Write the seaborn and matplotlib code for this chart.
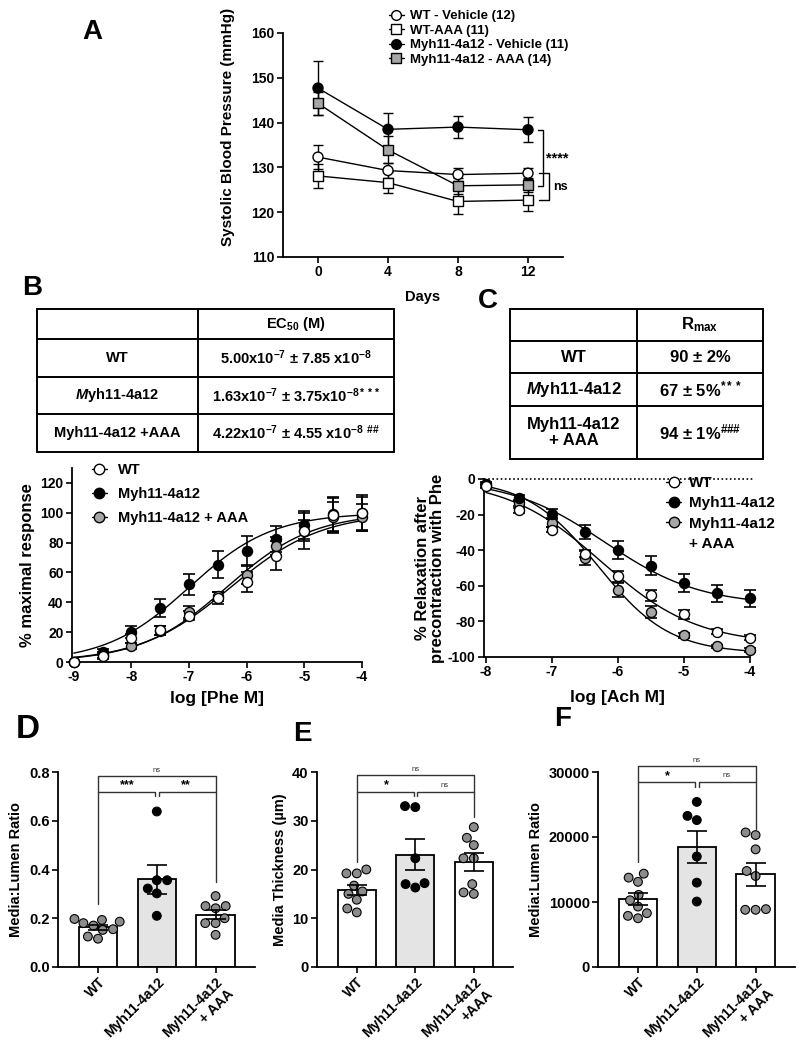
import numpy as np
import pandas as pd
import matplotlib
matplotlib.use("Agg")
import matplotlib.pyplot as plt
import seaborn as sns
from matplotlib.lines import Line2D

sns.set_theme(style="ticks")
plt.rcParams["font.family"] = ["Liberation Sans", "DejaVu Sans"]
plt.rcParams["font.weight"] = "bold"
plt.rcParams["axes.labelweight"] = "bold"
plt.rcParams["text.color"] = "black"
plt.rcParams["axes.labelcolor"] = "black"
plt.rcParams["xtick.color"] = "black"
plt.rcParams["ytick.color"] = "black"
plt.rcParams["axes.edgecolor"] = "black"
plt.rcParams["mathtext.fontset"] = "custom"
plt.rcParams["mathtext.rm"] = "Liberation Sans:bold"
plt.rcParams["mathtext.bf"] = "Liberation Sans:bold"
plt.rcParams["mathtext.it"] = "Liberation Sans:italic:bold"
plt.rcParams["mathtext.default"] = "rm"
plt.rcParams["axes.unicode_minus"] = False

# ---------------- data ----------------
# Panel A : systolic blood pressure
days = [0, 4, 8, 12]
a_groups = ["WT - Vehicle (12)", "WT-AAA (11)", "Myh11-4a12 - Vehicle (11)", "Myh11-4a12 - AAA (14)"]
bp_wt_veh = [132.3, 129.3, 128.4, 128.7]
bp_wt_veh_sem = [2.7, 1.6, 1.5, 1.2]
bp_wt_aaa = [128.1, 126.6, 122.4, 122.7]
bp_wt_aaa_sem = [2.6, 2.3, 2.8, 2.5]
bp_myh_veh = [147.7, 138.5, 139.0, 138.4]
bp_myh_veh_sem = [6.0, 3.7, 2.4, 2.8]
bp_myh_aaa = [144.3, 133.9, 125.9, 126.1]
bp_myh_aaa_sem = [2.5, 3.0, 1.8, 1.6]

# Panel B : phenylephrine concentration-response
curve_groups = ["WT", "Myh11-4a12", "Myh11-4a12 + AAA"]
log_phe = [-9, -8.5, -8, -7.5, -7, -6.5, -6, -5.5, -5, -4.5, -4]
phe_wt = [0, 4, 16, 21.3, 30.9, 42.9, 53.6, 71.3, 87.6, 98.7, 99.6]
phe_wt_sem = [0, 2, 3, 3, 3, 4, 7, 9.5, 12, 12, 12]
phe_myh = [0, 7, 20.2, 36.2, 52, 65.3, 74.7, 82.4, 91.8, 99, 99.6]
phe_myh_sem = [0, 2, 4, 6, 7, 9, 10, 9, 9.5, 11, 11]
phe_aaa = [0, 5, 11, 21, 33.6, 44, 58.4, 78, 88, 97, 97]
phe_aaa_sem = [0, 2, 2, 3, 4, 3, 6, 6, 7, 10, 9]
# fitted 4PL parameters (bottom, top, logEC50, hill)
phe_fit = {"WT": (0, 100, -6.28, 0.55),
           "Myh11-4a12": (0, 100, -7.0, 0.6),
           "Myh11-4a12 + AAA": (0, 100, -6.35, 0.58)}

# Panel C : acetylcholine relaxation
log_ach = [-8, -7.5, -7, -6.5, -6, -5.5, -5, -4.5, -4]
ach_wt = [-4.1, -17.6, -28.4, -41.9, -54.6, -65.4, -76.1, -85.8, -89.2]
ach_wt_sem = [1, 1.5, 1.5, 2, 3, 3, 2.5, 1.5, 1.5]
ach_myh = [-2.6, -10.7, -19.6, -29.7, -40, -48.6, -58.3, -64.3, -67.1]
ach_myh_sem = [1, 1.5, 2.5, 4, 5, 5.5, 5, 5, 5]
ach_aaa = [-3.5, -13.5, -24.7, -44.3, -62.4, -74.6, -87.9, -94, -96]
ach_aaa_sem = [1, 1.5, 2, 4, 4, 3.5, 1.5, 1, 1]
ach_fit = {"WT": (0, -93, -6.25, 0.6),
           "Myh11-4a12": (0, -71, -6.2, 0.6),
           "Myh11-4a12 + AAA": (0, -98, -6.3, 0.8)}

# Tables
tabB_rows = ["WT", "$\\mathit{M}$yh11-4a12", "Myh11-4a12 +AAA"]
tabB_vals = ["5.00x10$^{-7}$ \u00b1 7.85 x10$^{-8}$",
             "1.63x10$^{-7}$ \u00b1 3.75x10$^{-8***}$",
             "4.22x10$^{-7}$ \u00b1 4.55 x10$^{-8}$ $^{\\#\\#}$"]
tabC_rows = ["WT", "$\\mathit{M}$yh11-4a12", "Myh11-4a12\n+ AAA"]
tabC_vals = ["90 \u00b1 2%", "67 \u00b1 5%$^{***}$", "94 \u00b1 1%$^{\\#\\#\\#}$"]

# Panels D-F : morphometry
bar_groups = ["WT", "Myh11-4a12", "Myh11-4a12 + AAA"]
d_means = [0.163, 0.360, 0.215]
d_sems = [0.010, 0.060, 0.019]
d_wt = [0.18, 0.17, 0.186, 0.193, 0.197, 0.152, 0.155, 0.116, 0.125]
d_myh = [0.638, 0.356, 0.356, 0.322, 0.302, 0.21]
d_aaa = [0.291, 0.25, 0.25, 0.241, 0.20, 0.18, 0.18, 0.132]

e_means = [15.8, 23.0, 21.5]
e_sems = [1.0, 3.2, 1.9]
e_wt = [19.2, 20.0, 19.2, 15.5, 16.7, 15.0, 13.8, 11.2, 12.0]
e_myh = [32.8, 33.0, 22.3, 17.2, 17.0, 16.3]
e_aaa = [28.7, 26.5, 25.0, 22.3, 22.3, 17.0, 15.0, 15.3]

f_means = [10500, 18500, 14250]
f_sems = [900, 2500, 1800]
f_wt = [13750, 14360, 13100, 10270, 11100, 9300, 7500, 8280, 7870]
f_myh = [25400, 23250, 22600, 17000, 12980, 10070]
f_aaa = [20300, 20700, 18100, 14770, 14000, 8800, 8900, 8800]

# ---------------- figure ----------------
W, H = 803, 1050
fig = plt.figure(figsize=(W / 100, H / 100), dpi=100)


def px_axes(l, t, r, b):
    return fig.add_axes([l / W, 1 - b / H, (r - l) / W, (b - t) / H])


bg = fig.add_axes([0, 0, 1, 1])
bg.set_xlim(0, W)
bg.set_ylim(H, 0)
bg.axis("off")


def style_axes(ax, fs=9):
    sns.despine(ax=ax)
    for s in ["left", "bottom"]:
        ax.spines[s].set_linewidth(1.3)
        ax.spines[s].set_color("black")
    ax.tick_params(axis="both", direction="out", length=4, width=1.2,
                   colors="black", labelsize=fs, pad=2)
    for lab in ax.get_xticklabels() + ax.get_yticklabels():
        lab.set_fontweight("bold")
        lab.set_color("black")
    ax.set_facecolor("none")


def logistic(x, p):
    bottom, top, logec, hill = p
    x = np.asarray(x)
    return bottom + (top - bottom) / (1 + 10 ** ((logec - x) * hill))


# ---------- Panel A ----------
axA = px_axes(283, 33, 563, 257)
a_vals = [bp_wt_veh, bp_wt_aaa, bp_myh_veh, bp_myh_aaa]
a_sems = [bp_wt_veh_sem, bp_wt_aaa_sem, bp_myh_veh_sem, bp_myh_aaa_sem]
a_face = {a_groups[0]: "white", a_groups[1]: "white", a_groups[2]: "black", a_groups[3]: "#a6a6a6"}
a_mark = {a_groups[0]: "o", a_groups[1]: "s", a_groups[2]: "o", a_groups[3]: "s"}
dfA = pd.DataFrame([(g, d, v) for g, vals in zip(a_groups, a_vals) for d, v in zip(days, vals)],
                   columns=["group", "day", "bp"])
for g, vals, sems in zip(a_groups, a_vals, a_sems):
    axA.errorbar(days, vals, yerr=sems, fmt="none", ecolor="black", elinewidth=1,
                 capsize=3.5, capthick=1, zorder=1, clip_on=False)
sns.lineplot(data=dfA, x="day", y="bp", hue="group", palette={g: "black" for g in a_groups},
             linewidth=1, legend=False, ax=axA, zorder=2)
sns.scatterplot(data=dfA, x="day", y="bp", hue="group", style="group", palette=a_face,
                markers=a_mark, s=52, edgecolor="black", linewidth=1, legend=False,
                ax=axA, zorder=3, clip_on=False)
axA.set_xlim(-2, 14)
axA.set_ylim(110, 160)
axA.set_xticks(days)
axA.set_yticks(range(110, 161, 10))
axA.set_xlabel("Days", fontsize=10.5, labelpad=8)
axA.set_ylabel("Systolic Blood Pressure (mmHg)", fontsize=11)
axA.yaxis.set_label_coords(-0.17, 0.58)
style_axes(axA, 10)
# significance brackets
axA.plot([12.55, 12.86, 12.86, 12.55], [138.3, 138.3, 125.9, 125.9], color="black", lw=1, clip_on=False)
axA.text(13.05, 131.9, "****", fontsize=10.5, fontweight="bold", ha="left", va="center")
axA.plot([12.62, 13.2, 13.2, 12.62], [128.7, 128.7, 122.7, 122.7], color="black", lw=1, clip_on=False)
axA.text(13.45, 125.7, "ns", fontsize=9, fontweight="bold", ha="left", va="center")
a_handles = [Line2D([], [], color="black", lw=1, marker=a_mark[g], markerfacecolor=a_face[g],
                    markeredgecolor="black", markersize=7) for g in a_groups]
fig.legend(a_handles, a_groups, loc="upper left", bbox_to_anchor=(389 / W, 1 - 10 / H),
           frameon=False, handlelength=1.1, handletextpad=0.5,
           labelspacing=0.18, borderpad=0, borderaxespad=0, prop={"weight": "bold", "size": 9.5})

# ---------- Panel B ----------
c_face = {"WT": "white", "Myh11-4a12": "black", "Myh11-4a12 + AAA": "#a6a6a6"}
axB = px_axes(72, 468, 362, 662)
b_vals = {"WT": (phe_wt, phe_wt_sem), "Myh11-4a12": (phe_myh, phe_myh_sem),
          "Myh11-4a12 + AAA": (phe_aaa, phe_aaa_sem)}
xfitB = np.linspace(-9, -4, 200)
dfBfit = pd.DataFrame([(g, x, y) for g in curve_groups
                       for x, y in zip(xfitB, logistic(xfitB, phe_fit[g]))],
                      columns=["group", "x", "y"])
sns.lineplot(data=dfBfit, x="x", y="y", hue="group", palette={g: "black" for g in curve_groups},
             linewidth=1, legend=False, ax=axB, zorder=2)
dfB = pd.DataFrame([(g, x, v) for g in curve_groups for x, v in zip(log_phe, b_vals[g][0])],
                   columns=["group", "x", "y"])
for g in ["Myh11-4a12", "Myh11-4a12 + AAA", "WT"]:
    axB.errorbar(log_phe, b_vals[g][0], yerr=b_vals[g][1], fmt="none", ecolor="black",
                 elinewidth=1.2, capsize=4, capthick=1.2, zorder=1, clip_on=False)
for g in ["Myh11-4a12", "Myh11-4a12 + AAA", "WT"]:
    sns.scatterplot(data=dfB[dfB.group == g], x="x", y="y", color=c_face[g], s=52,
                    edgecolor="black", linewidth=1, legend=False, ax=axB, zorder=3, clip_on=False)
axB.set_xlim(-9.03, -4)
axB.set_ylim(0, 130)
axB.set_xticks(range(-9, -3))
axB.set_yticks(range(0, 121, 20))
axB.set_xlabel("log [Phe M]", fontsize=12.5, labelpad=5)
axB.set_ylabel("% maximal response", fontsize=12, labelpad=4)
style_axes(axB, 10)
b_handles = [Line2D([], [], color="black", lw=1, marker="o", markerfacecolor=c_face[g],
                    markeredgecolor="black", markersize=7.5) for g in curve_groups]
fig.legend(b_handles, curve_groups, loc="upper left", bbox_to_anchor=(92 / W, 1 - 463 / H),
           frameon=False, handlelength=1.0, handletextpad=0.8, labelspacing=0.68,
           borderpad=0, borderaxespad=0, prop={"weight": "bold", "size": 10.5})

# ---------- Panel C ----------
axC = px_axes(484, 479, 750, 657)
c_vals = {"WT": (ach_wt, ach_wt_sem), "Myh11-4a12": (ach_myh, ach_myh_sem),
          "Myh11-4a12 + AAA": (ach_aaa, ach_aaa_sem)}
axC.axhline(0, color="black", lw=1.2, ls=(0, (1, 1.5)), xmax=1.01, clip_on=False, zorder=0)
xfitC = np.linspace(-8, -4, 200)
dfCfit = pd.DataFrame([(g, x, y) for g in curve_groups
                       for x, y in zip(xfitC, logistic(xfitC, ach_fit[g]))],
                      columns=["group", "x", "y"])
sns.lineplot(data=dfCfit, x="x", y="y", hue="group", palette={g: "black" for g in curve_groups},
             linewidth=1, legend=False, ax=axC, zorder=2)
dfC = pd.DataFrame([(g, x, v) for g in curve_groups for x, v in zip(log_ach, c_vals[g][0])],
                   columns=["group", "x", "y"])
for g in curve_groups:
    axC.errorbar(log_ach, c_vals[g][0], yerr=c_vals[g][1], fmt="none", ecolor="black",
                 elinewidth=1.2, capsize=4, capthick=1.2, zorder=1, clip_on=False)
for g in ["Myh11-4a12 + AAA", "Myh11-4a12", "WT"]:
    sns.scatterplot(data=dfC[dfC.group == g], x="x", y="y", color=c_face[g], s=52,
                    edgecolor="black", linewidth=1, legend=False, ax=axC, zorder=3, clip_on=False)
axC.set_xlim(-8.03, -4)
axC.set_ylim(-100, 0)
axC.set_xticks(range(-8, -3))
axC.set_yticks(range(-100, 1, 20))
axC.set_xlabel("log [Ach M]", fontsize=12.5, labelpad=8)
axC.set_ylabel("% Relaxation after\nprecontraction with Phe", fontsize=12, labelpad=2,
               linespacing=1.0)
style_axes(axC, 10)
c_handles = [Line2D([], [], color="black", lw=1, marker="o", markerfacecolor=c_face[g],
                    markeredgecolor="black", markersize=7.5) for g in curve_groups]
c_handles.append(Line2D([], [], linestyle="none"))
fig.legend(c_handles, ["WT", "Myh11-4a12", "Myh11-4a12", "+ AAA"], loc="upper left",
           bbox_to_anchor=(666 / W, 1 - 476 / H), frameon=False, handlelength=1.0,
           handletextpad=0.5, labelspacing=0.42, borderpad=0, borderaxespad=0,
           prop={"weight": "bold", "size": 11})

# ---------- Tables ----------
def draw_table(x_edges, y_edges, header, rows, vals, fs):
    lw = 1.4
    for y in y_edges:
        bg.plot([x_edges[0], x_edges[-1]], [y, y], color="black", lw=lw)
    for x in x_edges:
        bg.plot([x, x], [y_edges[0], y_edges[-1]], color="black", lw=lw)
    c1 = (x_edges[0] + x_edges[1]) / 2
    c2 = (x_edges[1] + x_edges[2]) / 2
    bg.text(c2, (y_edges[0] + y_edges[1]) / 2, header, ha="center", va="center",
            fontsize=fs, fontweight="bold")
    for i, (r, v) in enumerate(zip(rows, vals)):
        yc = (y_edges[i + 1] + y_edges[i + 2]) / 2
        bg.text(c1, yc, r, ha="center", va="center", fontsize=fs, fontweight="bold",
                linespacing=1.1)
        bg.text(c2, yc, v, ha="center", va="center", fontsize=fs, fontweight="bold")


draw_table([37, 198, 394], [309, 339, 377, 414, 452], "EC$_{50}$ (M)", tabB_rows, tabB_vals, 10.5)
draw_table([510, 637, 763], [309, 341, 373, 406, 459], "R$_{\\mathrm{max}}$", tabC_rows, tabC_vals, 12)

# ---------- Bar panels ----------
bar_face = {"WT": "white", "Myh11-4a12": "#e4e4e4", "Myh11-4a12 + AAA": "white"}
pt_face = {"WT": "#8c8c8c", "Myh11-4a12": "black", "Myh11-4a12 + AAA": "#8c8c8c"}


def bar_panel(ax, means, sems, pts, ylim, yticks, ylabel, ticklabels, fmt, brackets):
    df = pd.DataFrame([(g, v) for g, vals in zip(bar_groups, pts) for v in vals],
                      columns=["group", "val"])
    sns.barplot(x=bar_groups, y=means, hue=bar_groups, order=bar_groups, hue_order=bar_groups,
                palette=bar_face, width=0.65, edgecolor="black", linewidth=1.3,
                errorbar=None, legend=False, ax=ax, zorder=1)
    ax.set_xlim(-0.68, 2.67)
    ax.set_ylim(*ylim)
    sns.swarmplot(data=df, x="group", y="val", hue="group", order=bar_groups,
                  hue_order=bar_groups, palette=pt_face, size=6.3, edgecolor="black",
                  linewidth=0.8, legend=False, ax=ax, zorder=3)
    ax.errorbar([0, 1, 2], means, yerr=sems, fmt="none", ecolor="black", elinewidth=1.2,
                capsize=7, capthick=1.2, zorder=4)
    ax.set_xlim(-0.68, 2.67)
    ax.set_ylim(*ylim)
    ax.set_yticks(yticks)
    ax.set_yticklabels([fmt(t) for t in yticks])
    ax.set_xticks([0, 1, 2])
    ax.set_xticklabels(ticklabels, rotation=45, ha="right", rotation_mode="anchor")
    ax.set_xlabel("")
    ax.set_ylabel(ylabel, fontsize=10.5)
    style_axes(ax, 10.5)
    for lab in ax.get_xticklabels():
        lab.set_fontsize(10)
    (y_low, y_top, leg_wt, leg_myh, leg_aaa, t1, t2, t3) = brackets
    ax.plot([0, 0, 0.97, 0.97], [leg_wt, y_low, y_low, leg_myh], color="#333333", lw=1, clip_on=False)
    ax.plot([1.03, 1.03, 2, 2], [leg_myh, y_low, y_low, leg_aaa], color="#333333", lw=1, clip_on=False)
    ax.plot([0, 0, 2, 2], [y_low, y_top, y_top, y_low], color="#333333", lw=1, clip_on=False)
    span = ylim[1] - ylim[0]
    for x, t in [(0.5, t1), (1.5, t2), (1.0, t3)]:
        yb = y_low if x != 1.0 else y_top
        if t == "ns":
            ax.text(x, yb + 0.012 * span, t, ha="center", va="bottom", fontsize=5.5,
                    fontweight="normal", color="#333333")
        else:
            ax.text(x, yb, t, ha="center", va="bottom", fontsize=9,
                    fontweight="bold")


axD = px_axes(58, 772, 255, 967)
bar_panel(axD, d_means, d_sems, [d_wt, d_myh, d_aaa], (0, 0.8), [0, 0.2, 0.4, 0.6, 0.8],
          "Media:Lumen Ratio", ["WT", "Myh11-4a12", "Myh11-4a12\n+ AAA"],
          lambda t: f"{t:.1f}", (0.72, 0.782, 0.26, 0.70, 0.35, "***", "**", "ns"))
axE = px_axes(317, 772, 513, 967)
bar_panel(axE, e_means, e_sems, [e_wt, e_myh, e_aaa], (0, 40), [0, 10, 20, 30, 40],
          "Media Thickness (\u00b5m)", ["WT", "Myh11-4a12", "Myh11-4a12\n+AAA"],
          lambda t: f"{t:d}", (36.0, 39.3, 21.5, 35.0, 30.8, "*", "ns", "ns"))
axF = px_axes(598, 772, 795, 967)
bar_panel(axF, f_means, f_sems, [f_wt, f_myh, f_aaa], (0, 30000), [0, 10000, 20000, 30000],
          "Media:Lumen Ratio", ["WT", "Myh11-4a12", "Myh11-4a12\n+ AAA"],
          lambda t: f"{t:d}", (28500, 30900, 16200, 27700, 21300, "*", "ns", "ns"))

# ---------- panel letters ----------
for letter, x, y, fs in [("A", 92, 32, 20), ("B", 32, 288, 20), ("C", 488, 301, 20),
                         ("D", 28, 730, 24), ("E", 302, 734, 20), ("F", 563, 719, 20)]:
    bg.text(x, y, letter, ha="center", va="center", fontsize=fs, fontweight="bold")

fig.savefig("out.png", dpi=100)
